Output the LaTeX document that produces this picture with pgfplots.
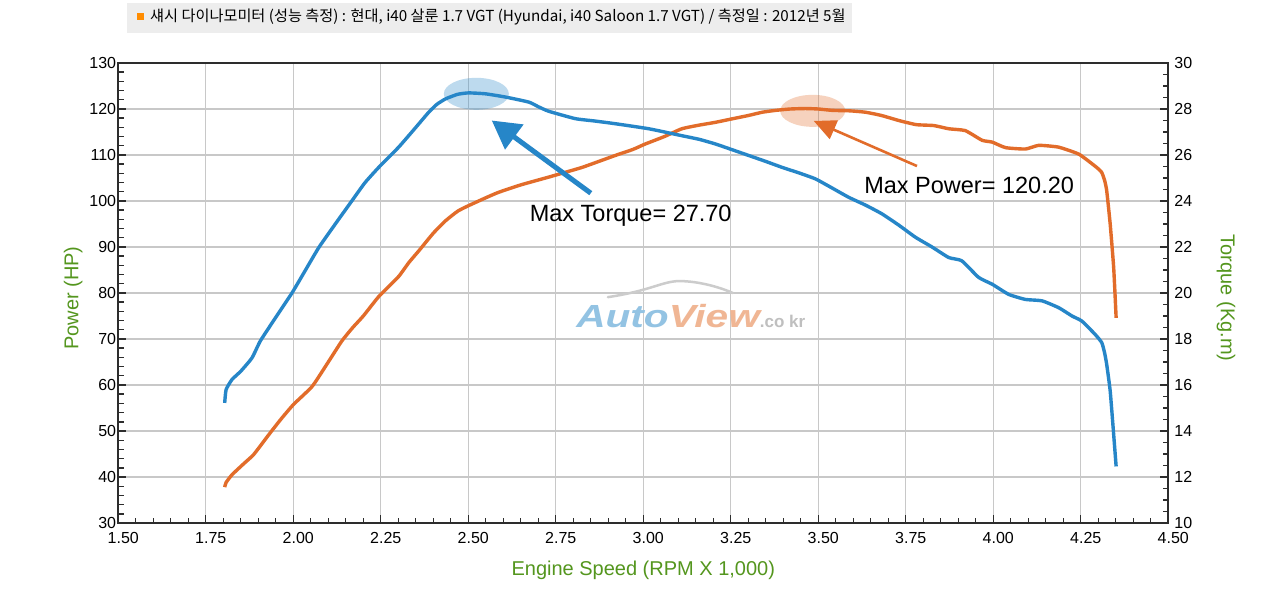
\documentclass[border=0pt]{standalone}
\usepackage{pgfplots}
\pgfplotsset{compat=1.18}
\usepackage{fontspec}
\setmainfont{Liberation Sans}
\newfontfamily\cjk{Noto Sans CJK KR}
\usetikzlibrary{arrows.meta}
\definecolor{pwr}{RGB}{226,108,42}
\definecolor{trq}{RGB}{38,134,200}
\definecolor{lblgreen}{RGB}{84,150,30}
\definecolor{gridgray}{RGB}{200,200,200}
\definecolor{axdark}{RGB}{45,45,45}
\pgfplotstableread{
rpm hp
1.804 37.8
1.808 38.8
1.825 40.5
1.860 43.0
1.887 44.9
1.930 49.2
1.965 52.6
2.001 55.8
2.054 59.7
2.100 65.0
2.139 69.6
2.170 72.5
2.200 75.0
2.245 79.3
2.300 83.5
2.330 86.6
2.359 89.2
2.400 93.0
2.435 95.7
2.470 97.8
2.501 99.0
2.550 100.7
2.587 101.9
2.650 103.5
2.730 105.2
2.780 106.3
2.825 107.3
2.880 108.8
2.920 109.9
2.970 111.2
3.006 112.4
3.060 114.0
3.110 115.7
3.160 116.5
3.206 117.1
3.250 117.8
3.301 118.6
3.340 119.3
3.378 119.7
3.420 120.0
3.463 120.1
3.500 120.0
3.540 119.7
3.590 119.6
3.635 119.3
3.680 118.6
3.730 117.5
3.780 116.6
3.830 116.4
3.873 115.7
3.920 115.3
3.968 113.2
3.997 112.8
4.035 111.6
4.092 111.3
4.130 112.1
4.187 111.7
4.244 110.2
4.282 108.1
4.300 107.0
4.310 106.2
4.318 104.5
4.324 102.3
4.334 95.0
4.344 85.5
4.351 74.6
}\powertable
\pgfplotstableread{
rpm kgm
1.804 15.22
1.808 15.80
1.825 16.24
1.850 16.60
1.882 17.18
1.906 17.92
1.949 18.92
1.997 20.02
2.035 21.00
2.073 21.98
2.120 23.00
2.168 24.02
2.205 24.80
2.244 25.46
2.301 26.34
2.350 27.20
2.387 27.86
2.410 28.20
2.435 28.44
2.470 28.64
2.501 28.70
2.549 28.66
2.606 28.52
2.673 28.30
2.700 28.10
2.730 27.90
2.806 27.58
2.860 27.48
2.920 27.36
3.016 27.14
3.110 26.84
3.160 26.68
3.206 26.48
3.250 26.25
3.301 25.98
3.350 25.72
3.397 25.46
3.445 25.22
3.492 24.96
3.540 24.56
3.587 24.16
3.635 23.82
3.682 23.44
3.730 22.95
3.778 22.42
3.825 22.00
3.873 21.54
3.910 21.40
3.958 20.68
3.997 20.38
4.044 19.94
4.092 19.72
4.139 19.66
4.187 19.36
4.225 19.00
4.253 18.78
4.291 18.20
4.310 17.84
4.318 17.40
4.324 16.90
4.334 15.74
4.344 13.84
4.351 12.46
}\torquetable
\begin{document}
\begin{tikzpicture}[x=1pt,y=1pt]
\useasboundingbox (0,0) rectangle (1280,600);
\fill[white] (0,0) rectangle (1280,600);
% title bar
\fill[black!7] (127,567) rectangle (852,597);
\fill[orange!90!yellow] (137,580) rectangle (144,587);
\node[anchor=west,inner sep=0pt] at (150,583.5) {\cjk\fontsize{15.2}{16}\selectfont 섀시 다이나모미터 (성능 측정) : 현대, i40 살룬 1.7 VGT (Hyundai, i40 Saloon 1.7 VGT) / 측정일 : 2012년 5월};
\pgfplotsset{
  base/.style={
    scale only axis, width=1050pt, height=460pt,
    at={(118.3pt,77pt)}, anchor=south west,
    xmin=1.5, xmax=4.5,
    tick align=inside,
    major tick length=8pt, minor tick length=5.5pt,
    tick style={line width=1.4pt, axdark},
    axis line style={line width=2.4pt, axdark},
    tick label style={font=\fontsize{16}{16}\selectfont, text=black},
    /pgf/number format/assume math mode=true,
  }
}
\begin{axis}[base,
  ymin=30, ymax=130,
  ytick={30,40,...,130},
  xtick={1.5,1.75,2,2.25,2.5,2.75,3,3.25,3.5,3.75,4,4.25,4.5},
  xticklabels={1.50,1.75,2.00,2.25,2.50,2.75,3.00,3.25,3.50,3.75,4.00,4.25,4.50},
  minor x tick num=4, minor y tick num=4,
  xtick pos=bottom, ytick pos=left,
  grid=major, major grid style={gridgray, line width=1.3pt},
  xticklabel style={xshift=5pt, yshift=-6pt},
  yticklabel style={inner sep=2pt},
  xlabel={Engine Speed (RPM X 1,000)},
  ylabel={Power (HP)},
  every axis x label/.style={at={(axis description cs:0.5,-0.102)}, anchor=center, font=\fontsize{20}{22}\selectfont, text=lblgreen},
  every axis y label/.style={at={(axis description cs:-0.043,0.489)}, anchor=center, rotate=90, font=\fontsize{20}{22}\selectfont, text=lblgreen},
]
% watermark
\draw[gray!40, line width=2.5pt, line cap=round] (axis cs:2.899,79.1) .. controls (axis cs:3.02,80.5) and (axis cs:3.05,82.4) .. (axis cs:3.10,82.6) .. controls (axis cs:3.16,82.6) and (axis cs:3.22,81.2) .. (axis cs:3.256,80.0);
\node[anchor=base west, inner sep=0pt] at (axis cs:2.808,72.6) {\scalebox{1.27}[1]{\fontsize{32}{32}\selectfont\bfseries\itshape\textcolor{trq!50}{Auto}\textcolor{pwr!50}{View}}\textcolor{gray!50}{\fontsize{17}{17}\selectfont\bfseries .co kr}};
\addplot[pwr, line width=3.4pt, line join=round, smooth, tension=0.3] table[x=rpm, y=hp] {\powertable};
\fill[trq, opacity=0.3] (axis cs:2.523,123.3) ellipse [x radius=32.5pt, y radius=16pt];
\fill[pwr, opacity=0.3] (axis cs:3.484,119.6) ellipse [x radius=32.5pt, y radius=16pt];
\draw[trq, line width=5pt, -{Triangle[length=28pt,width=30pt]}] (axis cs:2.85,101.7) -- (axis cs:2.567,117.5);
\draw[pwr, line width=2.6pt, -{Triangle[length=22pt,width=20pt]}] (axis cs:3.782,107.6) -- (axis cs:3.487,117.4);
\node[font=\fontsize{23.5}{24}\selectfont] at (axis cs:2.964,96.7) {Max Torque= 27.70};
\node[font=\fontsize{23.5}{24}\selectfont] at (axis cs:3.931,103.3) {Max Power= 120.20};
\end{axis}
\begin{axis}[base,
  ymin=10, ymax=30,
  ytick={10,12,...,30},
  minor y tick num=3,
  axis x line=none,
  axis y line*=right,
  yticklabel style={inner sep=2pt, xshift=4pt},
  ylabel={Torque (Kg.m)},
  every axis y label/.style={at={(axis description cs:1.055,0.489)}, anchor=center, rotate=-90, font=\fontsize{20}{22}\selectfont, text=lblgreen},
]
\addplot[trq, line width=3.4pt, line join=round, smooth, tension=0.3] table[x=rpm, y=kgm] {\torquetable};
\end{axis}
\end{tikzpicture}
\end{document}
